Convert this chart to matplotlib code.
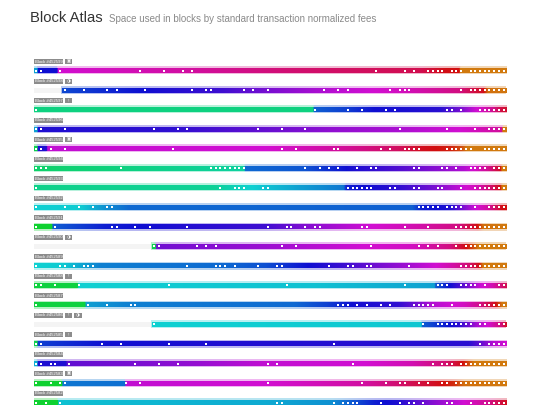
import numpy as np
import matplotlib
matplotlib.use('Agg')
import matplotlib.pyplot as plt
from matplotlib.colors import hsv_to_rgb
from matplotlib.patches import Rectangle

plt.rcParams['font.family'] = ['Liberation Sans', 'DejaVu Sans']

# block heights, top to bottom
blocks = [452599, 452598, 452597, 452596, 452595, 452594, 452593, 452592, 452591,
          452590, 452589, 452588, 452587, 452586, 452585, 452584, 452583, 452582]

# percent of the block left empty (drawn from the left)
empty_pct = [0, 5.9, 0, 0, 0, 0, 0, 0, 0, 25, 0, 0, 0, 25, 0, 0, 0, 0]

# small flags shown next to each label
flags = [['▣'], ['◑'], ['!'], [], ['▣'], [], [], [], [], ['◑'],
         [], ['!'], [], ['!', '◑'], ['!'], [], ['▣'], []]

# fee colour along each block: (percent of block, hue in degrees)
hues_599 = [(0, 195), (0.7, 195), (0.7, 240), (4.9, 240), (4.9, 300), (33, 315), (55, 330),
            (82, 340), (87, 358), (90, 360), (90, 393), (100, 393)]
hues_598 = [(5.9, 222), (26, 243), (40, 255), (49, 272), (63, 292), (77, 305), (90, 325),
            (95, 355), (96, 390), (100, 392)]
hues_597 = [(0, 155), (59.1, 155), (59.1, 215), (66, 225), (72, 240), (86, 248), (90, 270),
            (93, 295), (97, 320), (99, 345), (100, 350)]
hues_596 = [(0, 195), (0.7, 195), (0.7, 245), (30, 250), (47, 265), (63, 280), (77, 288),
            (90, 300), (98, 315), (99, 320), (99, 393), (100, 393)]
hues_595 = [(0, 140), (0.7, 140), (0.7, 245), (2.7, 245), (2.7, 295), (49, 300), (66, 318),
            (77, 335), (82, 355), (88, 365), (90.5, 380), (91.5, 393), (100, 393)]
hues_594 = [(0, 148), (44.5, 165), (44.5, 212), (57, 218), (63, 232), (68, 245), (77, 260),
            (84, 275), (91, 290), (96, 320), (98.5, 350), (99, 393), (100, 393)]
hues_593 = [(0, 158), (38, 162), (46, 180), (56, 195), (65.5, 208), (66, 235), (77, 250),
            (84, 270), (89, 290), (94, 310), (97, 335), (98.5, 355), (99, 393), (100, 393)]
hues_592 = [(0, 180), (10, 182), (15, 200), (20, 212), (80, 215), (82, 235), (88, 245),
            (90, 265), (93, 295), (96, 315), (98, 340), (99, 358), (100, 360)]
hues_591 = [(0, 130), (3.8, 130), (3.8, 215), (15, 235), (30, 245), (49, 255), (57, 275),
            (70, 298), (80, 310), (90, 325), (93.5, 355), (95, 390), (100, 393)]
hues_590 = [(25, 140), (25.8, 140), (25.8, 270), (51, 285), (70, 300), (80, 305), (88, 325),
            (91, 355), (93, 380), (94, 393), (100, 393)]
hues_589 = [(0, 180), (6, 182), (14, 205), (40, 212), (49, 220), (58, 240), (66, 255),
            (73, 272), (79, 285), (85, 300), (89, 315), (92, 330), (94, 355), (95, 393), (100, 393)]
hues_588 = [(0, 135), (9.3, 135), (9.3, 180), (60, 185), (84.8, 195), (84.8, 215), (88, 240),
            (91, 265), (94, 295), (97, 310), (100, 340)]
hues_587 = [(0, 135), (10.8, 135), (10.8, 195), (20, 205), (55, 212), (62, 225), (68, 242),
            (77, 250), (80, 265), (84, 290), (91, 305), (94, 320), (97.5, 355), (98.7, 385),
            (99, 393), (100, 393)]
hues_586 = [(25, 180), (82, 183), (82, 215), (87, 235), (90, 250), (92, 270), (94, 290),
            (96, 300), (99, 330), (100, 355)]
hues_585 = [(0, 140), (0.7, 140), (0.7, 225), (15, 240), (40, 245), (92, 248), (95, 270),
            (97, 290), (100, 300)]
hues_584 = [(0, 190), (0.7, 190), (0.7, 245), (6.8, 245), (6.8, 265), (20, 272), (35, 282),
            (49, 295), (70, 300), (80, 310), (87, 330), (90.5, 358), (93, 393), (100, 393)]
hues_583 = [(0, 130), (5.9, 130), (5.9, 208), (19.3, 210), (19.3, 295), (49, 300), (70, 315),
            (77, 330), (86, 358), (89, 370), (91, 390), (100, 393)]
hues_582 = [(0, 130), (5.1, 130), (5.1, 185), (49, 192), (63, 200), (66, 212), (72, 235),
            (77, 245), (80, 258), (84, 275), (91, 300), (96, 320), (100, 355)]

# white markers: cell index (0-99) along each block
dots_599 = [0, 1, 5, 22, 27, 31, 33, 72, 78, 80, 83, 84, 85, 86, 88, 89, 90, 92, 93, 94, 95, 96, 97, 98, 99]
dots_598 = [6, 10, 15, 17, 23, 33, 36, 37, 44, 46, 49, 61, 64, 66, 75, 77, 78, 79, 90, 92, 93, 94, 95, 96, 97, 98, 99]
dots_597 = [0, 59, 66, 69, 74, 76, 87, 88, 90, 94, 95, 96, 97, 98, 99]
dots_596 = [0, 1, 6, 25, 30, 32, 47, 52, 57, 77, 87, 93, 96, 97, 98, 99]
dots_595 = [0, 1, 3, 6, 29, 52, 55, 63, 64, 73, 75, 78, 79, 80, 81, 87, 88, 89, 90, 91, 92, 95, 96, 97, 98, 99]
dots_594 = [0, 1, 2, 18, 37, 38, 39, 40, 41, 42, 43, 44, 57, 60, 62, 64, 68, 71, 72, 80, 81, 86, 87, 89,
            92, 93, 94, 95, 97, 98, 99]
dots_593 = [0, 39, 42, 43, 44, 48, 49, 66, 67, 68, 69, 70, 71, 75, 76, 80, 81, 85, 86, 90, 93, 94, 95,
            96, 97, 98, 99]
dots_592 = [0, 6, 9, 12, 15, 16, 81, 82, 83, 84, 85, 87, 88, 89, 90, 93, 96, 97, 98, 99]
dots_591 = [0, 4, 16, 17, 21, 24, 32, 49, 53, 54, 57, 59, 60, 69, 70, 78, 83, 89, 90, 91, 92, 93, 94,
            95, 96, 97, 98, 99]
dots_590 = [25, 26, 34, 36, 38, 52, 55, 71, 81, 83, 85, 89, 91, 92, 93, 94, 95, 96, 97, 98, 99]
dots_589 = [0, 5, 6, 8, 10, 11, 12, 32, 38, 39, 40, 42, 47, 51, 52, 62, 66, 67, 70, 71, 79, 90, 91,
            92, 93, 94, 95, 96, 97, 98, 99]
dots_588 = [0, 1, 4, 9, 28, 53, 78, 85, 86, 87, 90, 91, 92, 93, 95, 98, 99]
dots_587 = [0, 11, 15, 20, 21, 64, 65, 66, 68, 70, 73, 75, 80, 81, 82, 83, 84, 88, 94, 95, 96, 97, 98, 99]
dots_586 = [25, 82, 85, 86, 87, 88, 89, 90, 91, 92, 94, 95, 98, 99]
dots_585 = [0, 1, 14, 18, 28, 36, 63, 94, 96, 97, 98, 99]
dots_584 = [0, 1, 3, 4, 7, 21, 26, 30, 49, 51, 67, 84, 86, 87, 88, 90, 91, 92, 93, 94, 95, 96, 97, 98, 99]
dots_583 = [0, 3, 5, 6, 19, 22, 49, 69, 74, 77, 78, 81, 83, 86, 87, 89, 90, 91, 92, 93, 94, 95, 96,
            97, 98, 99]
dots_582 = [0, 2, 5, 51, 52, 63, 65, 66, 67, 68, 73, 77, 79, 80, 82, 87, 88, 92, 95, 96, 97, 98, 99]

hue_rows = [hues_599, hues_598, hues_597, hues_596, hues_595, hues_594, hues_593, hues_592, hues_591,
            hues_590, hues_589, hues_588, hues_587, hues_586, hues_585, hues_584, hues_583, hues_582]
dot_rows = [dots_599, dots_598, dots_597, dots_596, dots_595, dots_594, dots_593, dots_592, dots_591,
            dots_590, dots_589, dots_588, dots_587, dots_586, dots_585, dots_584, dots_583, dots_582]


def hue_colors(stops, xs):
    pos = [p for p, h in stops]
    hue = [h for p, h in stops]
    hh = (np.interp(xs, pos, hue) % 360) / 360.0
    hsv = np.stack([hh, np.full_like(hh, 0.93), np.full_like(hh, 0.82)], axis=-1)
    return hsv_to_rgb(hsv)


fig = plt.figure(figsize=(5.4, 4.05), dpi=100)
fig.patch.set_facecolor('white')

fig.text(30 / 540, 1 - 18 / 405, 'Block Atlas', fontsize=10.6, color='#333333', va='center')
fig.text(109 / 540, 1 - 18.5 / 405, 'Space used in blocks by standard transaction normalized fees',
         fontsize=7.0, color='#8a8a8a', va='center')

ax = fig.add_axes([34 / 540, 0, 472 / 540, 355 / 405])
half = 0.128

for i, blk in enumerate(blocks):
    y = i
    start = empty_pct[i]
    if start > 0:
        ax.add_patch(Rectangle((0, y - half), start, 2 * half, facecolor='#f4f4f4', lw=0))

    xs = np.linspace(start, 100, 900)
    rgb = hue_colors(hue_rows[i], xs)
    # soft glow around the bar
    ax.imshow(rgb[None, :, :], extent=[start - 0.15, 100.15, y + half + 0.06, y - half - 0.06],
              aspect='auto', interpolation='bilinear', alpha=0.3, zorder=2)
    ax.imshow(rgb[None, :, :], extent=[start, 100, y + half, y - half],
              aspect='auto', interpolation='bilinear', zorder=3)

    d = np.array(dot_rows[i]) + 0.5
    ax.scatter(d, np.full(len(d), y), s=2.6, marker='s', color='white', linewidths=0, zorder=4)

    # label
    ly = y - 0.47
    ax.add_patch(Rectangle((0, ly - 0.13), 6.1, 0.26, facecolor='#8c8c8c', lw=0, zorder=3))
    ax.text(3.05, ly, 'Block #%d' % blk, fontsize=3.1, color='white', ha='center', va='center', zorder=4)
    for j, f in enumerate(flags[i]):
        fx = 6.5 + j * 2.0
        ax.add_patch(Rectangle((fx, ly - 0.13), 1.6, 0.26, facecolor='#8c8c8c', lw=0, zorder=3))
        ax.text(fx + 0.8, ly, f, fontsize=3.2, color='white', ha='center', va='center',
                family=['DejaVu Sans'], zorder=4)

ax.set_xlim(0, 100)
ax.set_ylim((405 - 70.7) / 19.52, -(70.7 - 50) / 19.52)
ax.axis('off')

fig.savefig('out.png', dpi=100, facecolor='white')
